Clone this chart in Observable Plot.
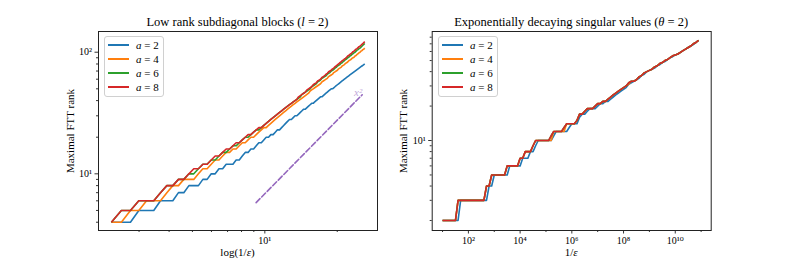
<!DOCTYPE html>
<html>
<head>
<meta charset="utf-8">
<script src="https://cdn.jsdelivr.net/npm/d3@7"></script>
<script src="https://cdn.jsdelivr.net/npm/@observablehq/plot@0.6"></script>
<style>
  html, body { margin: 0; padding: 0; background: #fff; }
  #fig { position: relative; width: 789px; height: 263px; background: #fff; font-family: "Liberation Serif", "DejaVu Serif", serif; color: #000; }
  .abs { position: absolute; }
  .title { font-size: 12.5px; text-align: center; white-space: nowrap; }
  .xlab { font-size: 11px; text-align: center; white-space: nowrap; }
  .ylab { font-size: 11px; white-space: nowrap; transform: translate(-50%, -50%) rotate(-90deg); }
  .legend { border: 1px solid #d0d0d0; border-radius: 3px; background: rgba(255,255,255,0.8); }
  .lrow { position: absolute; left: 0; height: 14px; font-size: 11px; white-space: nowrap; }
  .lrow .sw { position: absolute; left: 3px; top: 6px; width: 21px; height: 2px; }
  .lrow .tx { position: absolute; left: 31px; top: 0; line-height: 14px; }
</style>
</head>
<body>
<div id="fig">
  <div id="p1" class="abs" style="left:0;top:0"></div>
  <div id="p2" class="abs" style="left:390px;top:0"></div>
</div>
<script>
// ---------------- data ----------------
const seriesNames = ["a = 2", "a = 4", "a = 6", "a = 8"];
const seriesColors = ["#1f77b4", "#ff7f0e", "#2ca02c", "#d62728"];

// Left panel: eps = 10^(-t), t = 1.0 ... 11.3 (step 0.1); x = log(1/eps)
const leftEpsExp = d3.range(10, 114).map(k => k / 10);
const leftRankA2 = [4,4,4,5,5,5,6,6,6,7,
  7,8,8,8,9,9,10,10,11,11,
  12,12,12,13,13,14,15,15,16,16,
  17,18,18,19,20,20,21,21,22,23,
  23,24,25,26,27,28,28,29,30,30,
  31,32,33,34,34,35,36,37,38,38,
  39,40,41,42,43,43,44,45,46,47,
  48,49,50,50,51,52,53,54,55,56,
  57,58,59,60,61,62,63,64,65,66,
  67,68,69,70,71,72,73,74,75,76,
  77,78,79,80];
const leftRankA4 = [4,4,5,5,6,6,6,7,8,8,
  9,9,9,10,11,11,12,13,13,14,
  15,15,16,16,17,18,18,19,20,20,
  21,22,23,24,24,25,26,27,28,29,
  30,31,32,33,34,35,36,37,38,39,
  40,41,42,43,44,45,46,48,49,50,
  51,52,53,54,55,57,58,59,60,61,
  63,64,65,66,68,69,70,71,73,74,
  75,77,78,79,81,82,83,85,86,87,
  89,90,91,93,94,96,97,99,100,102,
  103,105,106,108];
const leftRankA6 = [4,5,5,6,6,6,7,8,8,9,
  9,10,10,11,12,12,13,13,14,15,
  15,16,17,17,18,19,20,20,21,22,
  23,23,24,25,26,27,28,29,30,31,
  32,33,34,35,36,37,38,39,40,41,
  42,43,45,46,47,48,49,50,52,53,
  54,55,57,58,59,61,62,63,64,66,
  67,68,70,71,72,74,75,77,78,79,
  81,82,84,85,87,88,90,91,93,94,
  96,97,99,100,102,104,105,107,108,110,
  112,114,116,118];
const leftRankA8 = [4,5,5,6,6,6,7,8,8,9,
  9,10,11,11,12,12,13,14,14,15,
  16,16,17,18,18,19,20,21,21,22,
  23,24,24,25,26,27,28,29,30,31,
  32,33,34,35,36,37,38,39,40,41,
  43,44,45,46,47,49,50,51,52,54,
  55,56,58,59,60,62,63,64,66,67,
  69,70,71,73,74,76,77,79,80,82,
  83,85,86,88,89,91,93,94,96,97,
  99,101,102,104,106,107,109,111,112,114,
  116,118,120,122];
// reference slope line x^2
const refX = [9.2, 25.4];
const refY = [5.8, 44.7];

// Right panel: 1/eps = 10^t, t = 1.0 ... 10.9 (step 0.1)
const rightInvEpsExp = d3.range(10, 110).map(k => k / 10);
const rightRankA2 = [2,2,2,2,2,2,2,3,3,3,
  3,3,3,3,3,3,3,3,4,4,
  5,5,5,5,5,5,6,6,6,6,
  6,7,7,7,8,8,9,10,10,10,
  10,10,10,11,12,12,12,12,12,13,
  14,14,14,16,17,17,18,19,19,19,
  20,21,21,22,22,23,24,25,26,27,
  28,29,31,32,33,34,35,37,38,40,
  41,42,43,45,46,48,49,51,53,54,
  56,57,59,61,63,65,67,69,72,75];
const rightRankA4 = [2,2,2,2,2,2,3,3,3,3,
  3,3,3,3,3,3,3,4,4,5,
  5,5,5,5,5,6,6,6,6,6,
  7,7,8,8,8,9,10,10,10,10,
  10,10,10,12,12,12,12,12,14,14,
  14,14,15,17,17,18,19,19,19,20,
  21,21,22,22,23,24,25,26,27,28,
  29,30,31,33,33,34,36,37,39,40,
  41,42,44,45,47,48,50,51,53,55,
  56,57,59,61,63,65,67,70,72,75];
const rightRankA6 = [2,2,2,2,2,2,3,3,3,3,
  3,3,3,3,3,3,3,4,4,5,
  5,5,5,5,5,6,6,6,6,6,
  7,7,8,8,8,9,10,10,10,10,
  10,10,11,12,12,12,12,13,14,14,
  14,14,15,17,17,18,19,19,19,20,
  21,21,22,22,23,24,25,26,27,28,
  29,30,32,33,33,34,36,37,39,40,
  41,42,44,45,47,48,50,51,53,55,
  56,57,59,61,63,65,67,70,72,75];
const rightRankA8 = [2,2,2,2,2,2,3,3,3,3,
  3,3,3,3,3,3,3,4,4,5,
  5,5,5,5,5,6,6,6,6,6,
  7,7,8,8,8,9,10,10,10,10,
  10,10,11,12,12,12,12,13,14,14,
  14,14,15,17,17,18,19,19,19,20,
  21,21,22,22,23,24,25,26,27,28,
  29,30,32,33,33,34,36,37,39,40,
  41,42,44,45,47,48,50,51,53,55,
  56,57,59,61,63,65,67,70,72,75];

// tick values
const leftXMajor = [10];
const leftXMinor = [3,4,5,6,7,8,9,20];
const leftYMajor = [10, 100];
const leftYMinor = [4,5,6,7,8,9,20,30,40,50,60,70,80,90];
const rightXMajor = [1e2, 1e4, 1e6, 1e8, 1e10];
const rightXMinor = [1e1, 1e3, 1e5, 1e7, 1e9, 1e11];
const rightYMajor = [10];
const rightYMinor = [2,3,4,5,6,7,8,9,20,30,40,50,60,70,80];

// ---------------- helpers ----------------
const supDigits = {"0":"⁰","1":"¹","2":"²","3":"³","4":"⁴","5":"⁵","6":"⁶","7":"⁷","8":"⁸","9":"⁹","-":"⁻"};
const pow10 = d => "10" + String(Math.round(Math.log10(d))).split("").map(c => supDigits[c]).join("");

function makeTable(xs, ranks) {
  return xs.map((x, i) => ({x, rank: ranks[i]}));
}

function panel(opts) {
  const lineMarks = opts.series.map((data, i) =>
    Plot.line(data, {x: "x", y: "rank", stroke: seriesColors[i], strokeWidth: 1.6, strokeLinejoin: "round", strokeLinecap: "butt"})
  );
  return Plot.plot({
    width: opts.width,
    height: 263,
    marginLeft: opts.marginLeft,
    marginRight: opts.marginRight,
    marginTop: 31,
    marginBottom: 33,
    style: {fontFamily: "'Liberation Serif', 'DejaVu Serif', serif", fontSize: "10px", background: "transparent", color: "#000", overflow: "visible"},
    x: {type: "log", domain: opts.xDomain},
    y: {type: "log", domain: opts.yDomain},
    marks: [
      ...(opts.extra || []),
      ...lineMarks,
      Plot.axisX({ticks: opts.xMinor, tickSize: 2, tickFormat: () => "", label: null, strokeWidth: 0.8}),
      Plot.axisX({ticks: opts.xMajor, tickSize: 3.5, tickPadding: 3, tickFormat: pow10, label: null, strokeWidth: 0.8}),
      Plot.axisY({ticks: opts.yMinor, tickSize: 2, tickFormat: () => "", label: null, strokeWidth: 0.8}),
      Plot.axisY({ticks: opts.yMajor, tickSize: 3.5, tickPadding: 3, tickFormat: pow10, label: null, strokeWidth: 0.8}),
      Plot.frame({stroke: "#222", strokeWidth: 1})
    ]
  });
}

// ---------------- left panel ----------------
const leftX = leftEpsExp.map(t => t * Math.LN10);
const leftSeries = [leftRankA2, leftRankA4, leftRankA6, leftRankA8].map(r => makeTable(leftX, r));
const refData = refX.map((x, i) => ({x, rank: refY[i]}));
const leftPlot = panel({
  width: 390, marginLeft: 98, marginRight: 13,
  xDomain: [2.035, 29.4], yDomain: [3.42, 148],
  xMajor: leftXMajor, xMinor: leftXMinor, yMajor: leftYMajor, yMinor: leftYMinor,
  series: leftSeries,
  extra: [
    Plot.line(refData, {x: "x", y: "rank", stroke: "#9467bd", strokeWidth: 1.6, strokeDasharray: "5.5,2.4"}),
    Plot.text([refData[refData.length - 1]], {x: "x", y: "rank", text: () => "x²", fill: "#9467bd", fillOpacity: 0.6, textAnchor: "end", lineAnchor: "bottom", fontSize: 11, fontStyle: "italic", dy: 1})
  ]
});
document.getElementById("p1").appendChild(leftPlot);

// ---------------- right panel ----------------
const rightX = rightInvEpsExp.map(t => Math.pow(10, t));
const rightSeries = [rightRankA2, rightRankA4, rightRankA6, rightRankA8].map(r => makeTable(rightX, r));
const rightPlot = panel({
  width: 399, marginLeft: 41.7, marginRight: 78.3,
  xDomain: [Math.pow(10, 0.6), Math.pow(10, 11.39)], yDomain: [1.635, 89.7],
  xMajor: rightXMajor, xMinor: rightXMinor, yMajor: rightYMajor, yMinor: rightYMinor,
  series: rightSeries
});
document.getElementById("p2").appendChild(rightPlot);

// ---------------- text: titles, axis labels, legends ----------------
const fig = document.getElementById("fig");
function addDiv(cls, style, html) {
  const d = document.createElement("div");
  d.className = "abs " + cls;
  Object.assign(d.style, style);
  d.innerHTML = html;
  fig.appendChild(d);
  return d;
}
const panels = [
  {x0: 98, x1: 377, title: "Low rank subdiagonal blocks (<i>l</i> = 2)", xlabel: "log(1/<i>ε</i>)", ylabX: 70, legX: 104},
  {x0: 431.7, x1: 710.7, title: "Exponentially decaying singular values (<i>θ</i> = 2)", xlabel: "1/<i>ε</i>", ylabX: 403, legX: 438}
];
panels.forEach(p => {
  addDiv("title", {left: p.x0 + "px", width: (p.x1 - p.x0) + "px", top: "14px", lineHeight: "16px"}, p.title);
  addDiv("xlab", {left: p.x0 + "px", width: (p.x1 - p.x0) + "px", top: "245px", lineHeight: "14px"}, p.xlabel);
  addDiv("ylab", {left: p.ylabX + "px", top: "130.5px", lineHeight: "13px"}, "Maximal FTT rank");
  const leg = addDiv("legend", {left: p.legX + "px", top: "36px", width: "58px", height: "59px"}, "");
  seriesNames.forEach((name, i) => {
    const row = document.createElement("div");
    row.className = "lrow";
    row.style.top = (1 + i * 14) + "px";
    row.style.width = "58px";
    row.innerHTML = `<div class="sw" style="background:${seriesColors[i]}"></div><div class="tx"><i>a</i> = ${name.split("= ")[1]}</div>`;
    leg.appendChild(row);
  });
});
</script>
</body>
</html>
